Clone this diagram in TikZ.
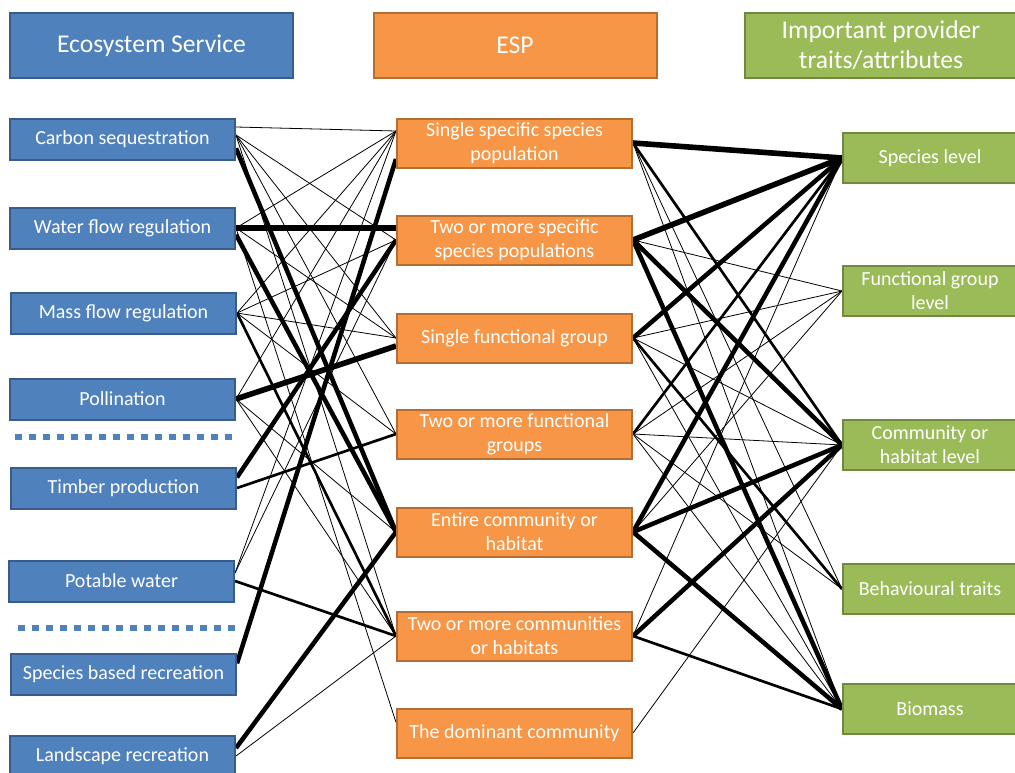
\documentclass[tikz,border=0pt]{standalone}
\usepackage{fontspec}
\setmainfont{Carlito}
\usetikzlibrary{backgrounds}
\definecolor{bfill}{RGB}{79,129,189}
\definecolor{bdraw}{RGB}{56,93,138}
\definecolor{ofill}{RGB}{247,150,70}
\definecolor{odraw}{RGB}{182,109,49}
\definecolor{gfill}{RGB}{155,187,89}
\definecolor{gdraw}{RGB}{113,137,63}
\tikzset{
  box/.style={draw, line width=1.5pt, text=white, align=center, inner sep=0pt, font=\fontsize{15}{18}\selectfont, execute at begin node={\vspace*{3pt}}},
  lbox/.style={box, fill=bfill, draw=bdraw, minimum width=168.75pt, minimum height=30.75pt},
  mbox/.style={box, fill=ofill, draw=odraw, minimum width=176.25pt, minimum height=36.75pt},
  rbox/.style={box, fill=gfill, draw=gdraw, minimum width=130.5pt, minimum height=37.5pt},
  hbox/.style={box, minimum width=212.25pt, minimum height=48.75pt, font=\fontsize{19.2}{22.5}\selectfont},
  sepline/.style={draw=bfill, line width=4.5pt, dash pattern=on 5pt off 5.5pt},
  thin/.style={line width=0.6pt},
  med/.style={line width=2pt},
  thk/.style={line width=3.4pt},
  vthk/.style={line width=4.2pt}
}
\begin{document}
\begin{tikzpicture}[x=0.75pt,y=-0.75pt]
\useasboundingbox (0,0) rectangle (1015,772);
% headers
\node[hbox, fill=bfill, draw=bdraw] (h1) at (151.5,45.5) {Ecosystem Service};
\node[hbox, fill=ofill, draw=odraw] (h2) at (515,45.5) {ESP};
\node[hbox, fill=gfill, draw=gdraw, minimum width=204pt] (h3) at (881,45.5) {Important provider\\traits/attributes};
% left column
\node[lbox] (L1) at (122.5,139) {Carbon sequestration};
\node[lbox] (L2) at (122.5,228) {Water flow regulation};
\node[lbox] (L3) at (123.5,313) {Mass flow regulation};
\node[lbox] (L4) at (122.5,399) {Pollination};
\node[lbox] (L5) at (123.5,488) {Timber production};
\node[lbox] (L6) at (121.5,581) {Potable water};
\node[lbox] (L7) at (123.5,674) {Species based recreation};
\node[lbox] (L8) at (122.5,756) {Landscape recreation};
% middle column
\node[mbox] (M1) at (514.5,143) {Single specific species\\population};
\node[mbox] (M2) at (514.5,240) {Two or more specific\\species populations};
\node[mbox] (M3) at (514.5,338) {Single functional group};
\node[mbox] (M4) at (514.5,434) {Two or more functional\\groups};
\node[mbox] (M5) at (514.5,532) {Entire community or\\habitat};
\node[mbox] (M6) at (514.5,636) {Two or more communities\\or habitats};
\node[mbox] (M7) at (514.5,733) {The dominant community};
% right column
\node[rbox] (R1) at (930,158) {Species level};
\node[rbox] (R2) at (930,291) {Functional group\\level};
\node[rbox] (R3) at (930,445) {Community or\\habitat level};
\node[rbox] (R4) at (930,589) {Behavioural traits};
\node[rbox] (R5) at (930,709) {Biomass};
% separators
\coordinate (s1a) at (15,437); \coordinate (s1b) at (233,437);
\coordinate (s2a) at (18,628); \coordinate (s2b) at (238,628);
\draw[sepline] (s1a) -- (s1b);
\draw[sepline] (s2a) -- (s2b);
% attachment points
\coordinate (m1in) at ([yshift=9pt]M1.west);
\coordinate (l1out) at ([yshift=3pt]L1.east);
\coordinate (l1low) at ([yshift=-7pt]L1.east);
\begin{scope}[on background layer]
% left - middle
\draw[thin] ([yshift=9pt]L1.east) -- (m1in);
\draw[thin] (l1out) -- (M2.west);
\draw[thin] (l1out) -- (M3.west);
\draw[thin] (l1out) -- (M4.west);
\draw[thk]  (l1low) -- (M5.west);
\draw[thin] (l1out) -- (M6.west);
\draw[thin] (L2.east) -- (m1in);
\draw[vthk] (L2.east) -- ([yshift=9pt]M2.west);
\draw[thin] (L2.east) -- (M3.west);
\draw[thk]  ([yshift=-5pt]L2.east) -- (M5.west);
\draw[thin] (L2.east) -- ([yshift=8pt]M7.west);
\draw[thin] (L3.east) -- (m1in);
\draw[thin] (L3.east) -- (M2.west);
\draw[thin] (L3.east) -- (M3.west);
\draw[thin] (L3.east) -- (M4.west);
\draw[med]  (L3.east) -- (M6.west);
\draw[thin] (L4.east) -- (m1in);
\draw[vthk] (L4.east) -- ([yshift=-6pt]M3.west);
\draw[thin] (L4.east) -- (M5.west);
\draw[thin] (L4.east) -- (M6.west);
\draw[thk]  ([yshift=8pt]L5.east) -- (M2.west);
\draw[med]  (L5.east) -- (M4.west);
\draw[thin] ([yshift=6pt]L6.east) -- (m1in);
\draw[thin] ([yshift=6pt]L6.east) -- (M2.west);
\draw[med]  (L6.east) -- (M6.west);
\draw[thk]  ([yshift=8pt]L7.east) -- ([yshift=-12pt]M1.west);
\draw[thk]  ([yshift=6pt]L8.east) -- (M5.west);
\draw[thin] (L8.east) -- (M6.west);
% middle - right
\draw[vthk] (M1.east) -- (R1.west);
\draw[med]  (M1.east) -- (R3.west);
\draw[thin] (M1.east) -- (R4.west);
\draw[thin] (M1.east) -- (R5.west);
\draw[vthk] (M2.east) -- (R1.west);
\draw[thin] (M2.east) -- (R2.west);
\draw[thk]  (M2.east) -- (R3.west);
\draw[thk]  (M2.east) -- (R5.west);
\draw[thk]  (M3.east) -- (R1.west);
\draw[thin] (M3.east) -- (R2.west);
\draw[thin] (M3.east) -- (R3.west);
\draw[med]  (M3.east) -- (R4.west);
\draw[thin] (M3.east) -- (R5.west);
\draw[med]  (M4.east) -- (R1.west);
\draw[thin] (M4.east) -- (R2.west);
\draw[thin] (M4.east) -- (R3.west);
\draw[thin] (M4.east) -- (R4.west);
\draw[thin] (M4.east) -- (R5.west);
\draw[thk]  (M5.east) -- (R1.west);
\draw[thin] (M5.east) -- (R2.west);
\draw[thk]  (M5.east) -- (R3.west);
\draw[thk]  (M5.east) -- (R5.west);
\draw[thin] (M6.east) -- (R1.west);
\draw[thk]  (M6.east) -- (R3.west);
\draw[med]  (M6.east) -- (R5.west);
\draw[thin] (M7.east) -- (R3.west);
\end{scope}
\end{tikzpicture}
\end{document}
